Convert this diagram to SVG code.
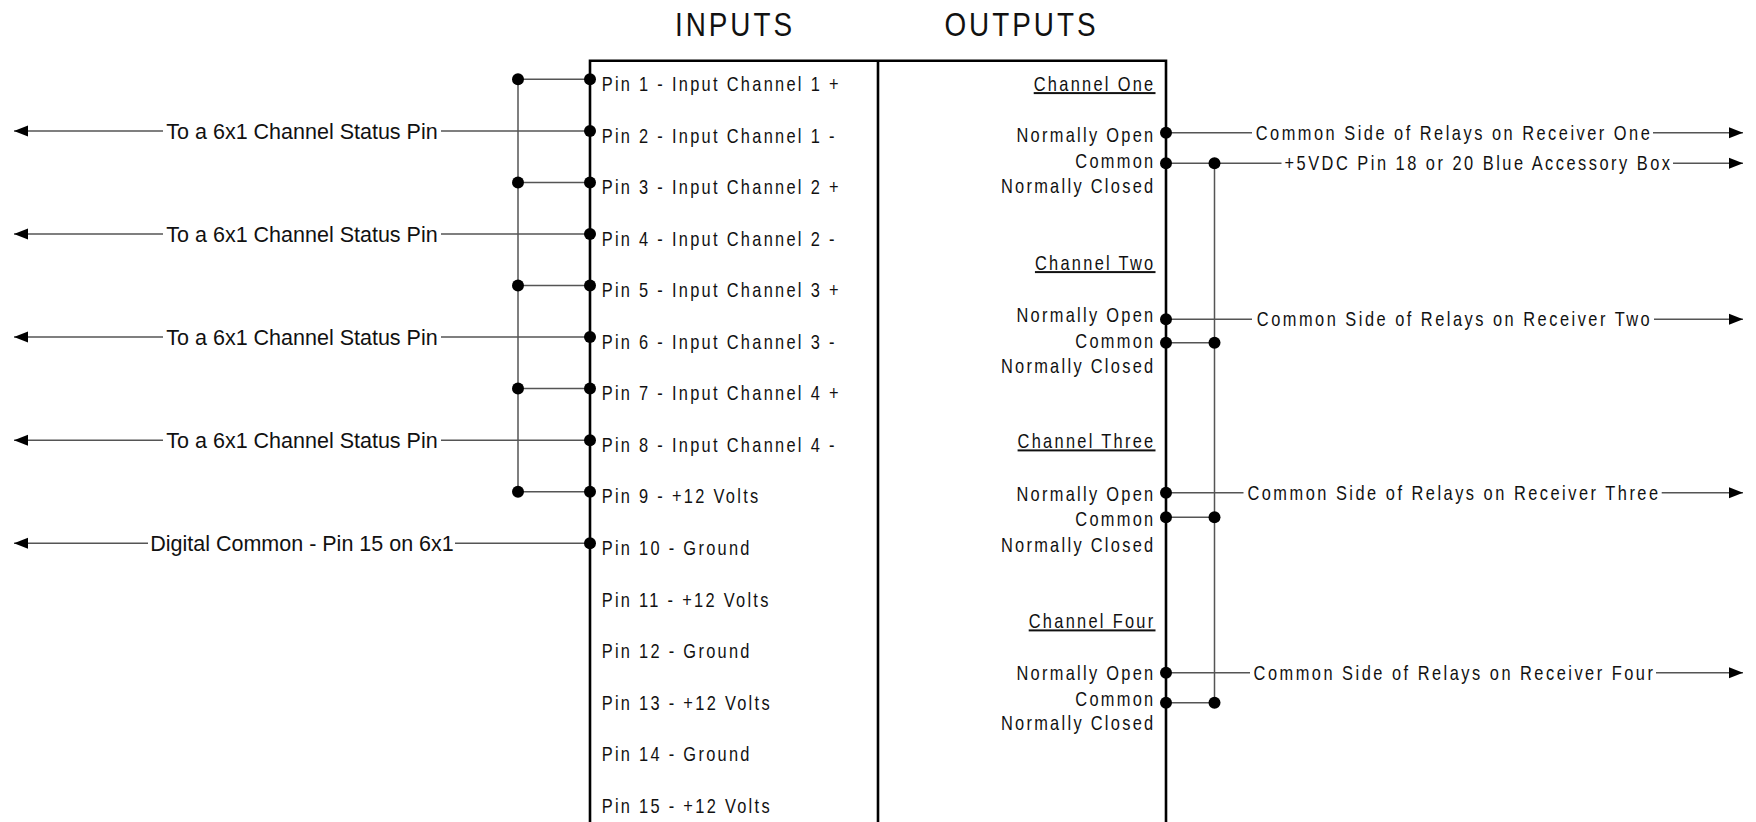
<svg xmlns="http://www.w3.org/2000/svg" width="1756" height="822" viewBox="0 0 1756 822">
<style>
.nar{font-family:"Liberation Sans",Arial,sans-serif;font-size:20px;letter-spacing:2.8px;fill:#111}
.cl{letter-spacing:3.05px;text-anchor:middle}
.hd{font-family:"Liberation Sans",Arial,sans-serif;font-size:34px;letter-spacing:3.66px;fill:#111;text-anchor:middle}
.lt{font-family:"Liberation Sans",Arial,sans-serif;font-size:21.5px;fill:#111;text-anchor:middle}
.end{text-anchor:end}
.ul{text-decoration:underline}
.wire{stroke:#555;stroke-width:1.5;fill:none}
.box{stroke:#000;stroke-width:2.6;fill:none}
.dot{fill:#000}
</style>
<defs>
<marker id="arr" markerWidth="14" markerHeight="12" refX="14" refY="6" orient="auto" markerUnits="userSpaceOnUse">
<path d="M0,0.5 L14,6 L0,11.5 z" fill="#000"/>
</marker>
</defs>
<rect width="1756" height="822" fill="#fff"/>
<g id="headings">
<text class="hd" transform="matrix(.82 0 0 1 735 35.5)">INPUTS</text>
<text class="hd" transform="matrix(.82 0 0 1 1021.5 35.5)">OUTPUTS</text>
</g>
<g id="connector-block">
<path class="box" d="M590,824 V60.7 H1166 V824"/>
<line class="box" x1="878" y1="60.7" x2="878" y2="824"/>
</g>
<g id="connectors">
<line class="wire" x1="518" y1="79.3" x2="518" y2="491.7"/>
<line class="wire" x1="518" y1="79.3" x2="590" y2="79.3"/>
<line class="wire" x1="518" y1="182.4" x2="590" y2="182.4"/>
<line class="wire" x1="518" y1="285.5" x2="590" y2="285.5"/>
<line class="wire" x1="518" y1="388.6" x2="590" y2="388.6"/>
<line class="wire" x1="518" y1="491.7" x2="590" y2="491.7"/>
<line class="wire" x1="163" y1="130.9" x2="14" y2="130.9" marker-end="url(#arr)"/>
<line class="wire" x1="441" y1="130.9" x2="590" y2="130.9"/>
<line class="wire" x1="163" y1="234" x2="14" y2="234" marker-end="url(#arr)"/>
<line class="wire" x1="441" y1="234" x2="590" y2="234"/>
<line class="wire" x1="163" y1="337.1" x2="14" y2="337.1" marker-end="url(#arr)"/>
<line class="wire" x1="441" y1="337.1" x2="590" y2="337.1"/>
<line class="wire" x1="163" y1="440.2" x2="14" y2="440.2" marker-end="url(#arr)"/>
<line class="wire" x1="441" y1="440.2" x2="590" y2="440.2"/>
<line class="wire" x1="148" y1="543.3" x2="14" y2="543.3" marker-end="url(#arr)"/>
<line class="wire" x1="455" y1="543.3" x2="590" y2="543.3"/>
<text class="lt" x="302" y="138.5">To a 6x1 Channel Status Pin</text>
<text class="lt" x="302" y="241.6">To a 6x1 Channel Status Pin</text>
<text class="lt" x="302" y="344.7">To a 6x1 Channel Status Pin</text>
<text class="lt" x="302" y="447.8">To a 6x1 Channel Status Pin</text>
<text class="lt" x="302" y="550.9">Digital Common - Pin 15 on 6x1</text>
<line class="wire" x1="1214.5" y1="163.3" x2="1214.5" y2="702.7"/>
<line class="wire" x1="1166" y1="132.7" x2="1252" y2="132.7"/>
<line class="wire" x1="1653" y1="132.7" x2="1743" y2="132.7" marker-end="url(#arr)"/>
<line class="wire" x1="1166" y1="163.3" x2="1281.5" y2="163.3"/>
<line class="wire" x1="1673" y1="163.3" x2="1743" y2="163.3" marker-end="url(#arr)"/>
<line class="wire" x1="1166" y1="319.3" x2="1252" y2="319.3"/>
<line class="wire" x1="1654" y1="319.3" x2="1743" y2="319.3" marker-end="url(#arr)"/>
<line class="wire" x1="1166" y1="342.7" x2="1214.5" y2="342.7"/>
<line class="wire" x1="1166" y1="492.7" x2="1243.5" y2="492.7"/>
<line class="wire" x1="1661.7" y1="492.7" x2="1743" y2="492.7" marker-end="url(#arr)"/>
<line class="wire" x1="1166" y1="517.3" x2="1214.5" y2="517.3"/>
<line class="wire" x1="1166" y1="672.7" x2="1250" y2="672.7"/>
<line class="wire" x1="1656" y1="672.7" x2="1743" y2="672.7" marker-end="url(#arr)"/>
<line class="wire" x1="1166" y1="702.7" x2="1214.5" y2="702.7"/>
<text class="nar cl" transform="matrix(.82 0 0 1 1454 139.7)">Common Side of Relays on Receiver One</text>
<text class="nar cl" transform="matrix(.82 0 0 1 1478.5 170.3)">+5VDC Pin 18 or 20 Blue Accessory Box</text>
<text class="nar cl" transform="matrix(.82 0 0 1 1454.5 326.3)">Common Side of Relays on Receiver Two</text>
<text class="nar cl" transform="matrix(.82 0 0 1 1454 499.7)">Common Side of Relays on Receiver Three</text>
<text class="nar cl" transform="matrix(.82 0 0 1 1454.5 679.7)">Common Side of Relays on Receiver Four</text>
</g>
<g id="dots">
<circle class="dot" cx="518" cy="79.3" r="6"/>
<circle class="dot" cx="518" cy="182.4" r="6"/>
<circle class="dot" cx="518" cy="285.5" r="6"/>
<circle class="dot" cx="518" cy="388.6" r="6"/>
<circle class="dot" cx="518" cy="491.7" r="6"/>
<circle class="dot" cx="590" cy="79.3" r="6"/>
<circle class="dot" cx="590" cy="130.9" r="6"/>
<circle class="dot" cx="590" cy="182.4" r="6"/>
<circle class="dot" cx="590" cy="234" r="6"/>
<circle class="dot" cx="590" cy="285.5" r="6"/>
<circle class="dot" cx="590" cy="337.1" r="6"/>
<circle class="dot" cx="590" cy="388.6" r="6"/>
<circle class="dot" cx="590" cy="440.2" r="6"/>
<circle class="dot" cx="590" cy="491.7" r="6"/>
<circle class="dot" cx="590" cy="543.3" r="6"/>
<circle class="dot" cx="1166" cy="132.7" r="6"/>
<circle class="dot" cx="1166" cy="163.3" r="6"/>
<circle class="dot" cx="1214.5" cy="163.3" r="6"/>
<circle class="dot" cx="1166" cy="319.3" r="6"/>
<circle class="dot" cx="1166" cy="342.7" r="6"/>
<circle class="dot" cx="1214.5" cy="342.7" r="6"/>
<circle class="dot" cx="1166" cy="492.7" r="6"/>
<circle class="dot" cx="1166" cy="517.3" r="6"/>
<circle class="dot" cx="1214.5" cy="517.3" r="6"/>
<circle class="dot" cx="1166" cy="672.7" r="6"/>
<circle class="dot" cx="1166" cy="702.7" r="6"/>
<circle class="dot" cx="1214.5" cy="702.7" r="6"/>
</g>
<g id="inputs">
<text class="nar" transform="matrix(.82 0 0 1 601.7 91)">Pin 1 - Input Channel 1 +</text>
<text class="nar" transform="matrix(.82 0 0 1 601.7 142.6)">Pin 2 - Input Channel 1 -</text>
<text class="nar" transform="matrix(.82 0 0 1 601.7 194.1)">Pin 3 - Input Channel 2 +</text>
<text class="nar" transform="matrix(.82 0 0 1 601.7 245.7)">Pin 4 - Input Channel 2 -</text>
<text class="nar" transform="matrix(.82 0 0 1 601.7 297.2)">Pin 5 - Input Channel 3 +</text>
<text class="nar" transform="matrix(.82 0 0 1 601.7 348.8)">Pin 6 - Input Channel 3 -</text>
<text class="nar" transform="matrix(.82 0 0 1 601.7 400.3)">Pin 7 - Input Channel 4 +</text>
<text class="nar" transform="matrix(.82 0 0 1 601.7 451.9)">Pin 8 - Input Channel 4 -</text>
<text class="nar" transform="matrix(.82 0 0 1 601.7 503.4)">Pin 9 - +12 Volts</text>
<text class="nar" transform="matrix(.82 0 0 1 601.7 555)">Pin 10 - Ground</text>
<text class="nar" transform="matrix(.82 0 0 1 601.7 606.5)">Pin 11 - +12 Volts</text>
<text class="nar" transform="matrix(.82 0 0 1 601.7 658.1)">Pin 12 - Ground</text>
<text class="nar" transform="matrix(.82 0 0 1 601.7 709.6)">Pin 13 - +12 Volts</text>
<text class="nar" transform="matrix(.82 0 0 1 601.7 761.2)">Pin 14 - Ground</text>
<text class="nar" transform="matrix(.82 0 0 1 601.7 812.7)">Pin 15 - +12 Volts</text>
</g>
<g id="outputs">
<g id="channel-one">
<text class="nar end ul" transform="matrix(.82 0 0 1 1155.5 91)">Channel One</text>
<text class="nar end" transform="matrix(.82 0 0 1 1155.5 141.7)">Normally Open</text>
<text class="nar end" transform="matrix(.82 0 0 1 1155.5 168.3)">Common</text>
<text class="nar end" transform="matrix(.82 0 0 1 1155.5 192.7)">Normally Closed</text>
</g>
<g id="channel-two">
<text class="nar end ul" transform="matrix(.82 0 0 1 1155.5 270)">Channel Two</text>
<text class="nar end" transform="matrix(.82 0 0 1 1155.5 322)">Normally Open</text>
<text class="nar end" transform="matrix(.82 0 0 1 1155.5 347.5)">Common</text>
<text class="nar end" transform="matrix(.82 0 0 1 1155.5 372.7)">Normally Closed</text>
</g>
<g id="channel-three">
<text class="nar end ul" transform="matrix(.82 0 0 1 1155.5 448.3)">Channel Three</text>
<text class="nar end" transform="matrix(.82 0 0 1 1155.5 501)">Normally Open</text>
<text class="nar end" transform="matrix(.82 0 0 1 1155.5 525.7)">Common</text>
<text class="nar end" transform="matrix(.82 0 0 1 1155.5 551.7)">Normally Closed</text>
</g>
<g id="channel-four">
<text class="nar end ul" transform="matrix(.82 0 0 1 1155.5 628.3)">Channel Four</text>
<text class="nar end" transform="matrix(.82 0 0 1 1155.5 680)">Normally Open</text>
<text class="nar end" transform="matrix(.82 0 0 1 1155.5 706)">Common</text>
<text class="nar end" transform="matrix(.82 0 0 1 1155.5 730)">Normally Closed</text>
</g>
</g>
</svg>
